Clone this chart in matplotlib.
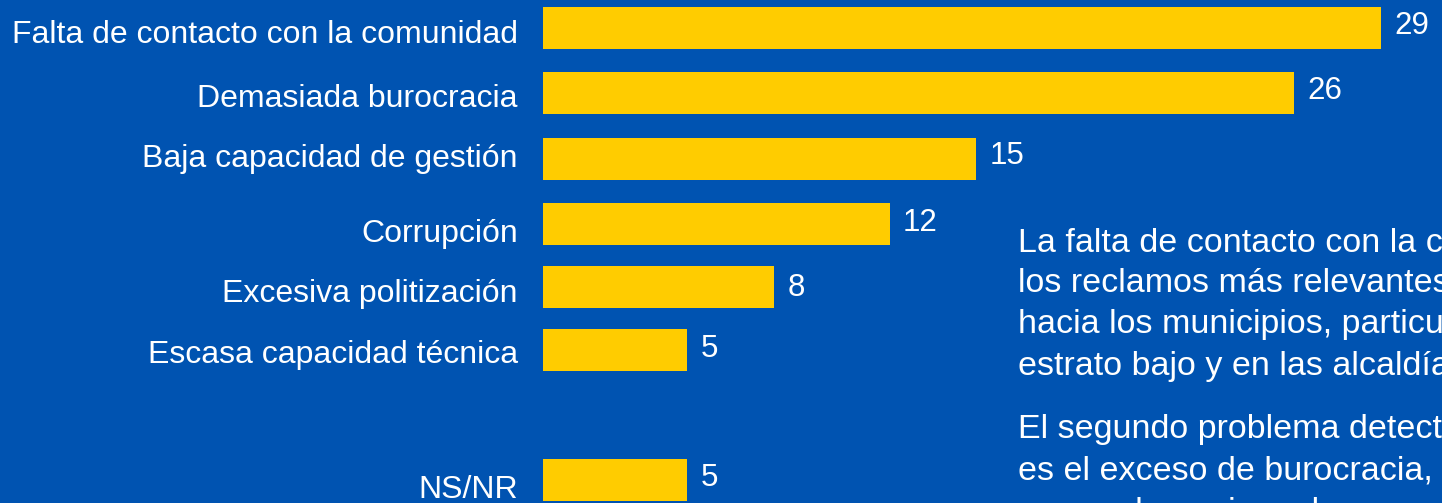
import matplotlib.pyplot as plt

# data
categories = ["Falta de contacto con la comunidad", "Demasiada burocracia",
              "Baja capacidad de gestión", "Corrupción", "Excesiva politización",
              "Escasa capacidad técnica", "NS/NR"]
values = [29, 26, 15, 12, 8, 5, 5]
value_labels = ["29", "26", "15", "12", "8", "5", "5"]

paragraph1 = ["La falta de contacto con la comunidad es uno de",
              "los reclamos más relevantes de la ciudadanía",
              "hacia los municipios, particularmente en el",
              "estrato bajo y en las alcaldías más pequeñas."]
paragraph2 = ["El segundo problema detectado por los vecinos",
              "es el exceso de burocracia, con",
              "preponderancia en las personas de estrato alto."]

BG = "#0053B1"
YELLOW = "#FFCC00"

W, H = 1442, 503
k = 28.9          # pixels per unit
x0 = 543          # pixel where bars start

# layout (pixel rows)
bar_y = [27.8, 92.8, 158.5, 223.5, 287, 349.5, 480]
label_base = [43, 106.7, 166.7, 241.7, 301.7, 363, 498]
value_base = [34.3, 99.3, 164, 231, 296, 357.3, 485.7]

plt.rcParams['font.family'] = ['Liberation Sans', 'DejaVu Sans']

fig = plt.figure(figsize=(W / 100, H / 100), dpi=100, facecolor=BG)
ax = fig.add_axes([0, 0, 1, 1])
ax.set_facecolor(BG)
ax.set_xlim(-x0 / k, (W - x0) / k)
ax.set_ylim(H, 0)
ax.axis(False)

ax.barh(bar_y, values, height=42, color=YELLOW, left=0)

for i in range(len(categories)):
    ax.text(-25 / k, label_base[i], categories[i], ha='right', va='baseline',
            color='white', fontsize=23)
    ax.text(values[i] + 13 / k, value_base[i], value_labels[i], ha='left',
            va='baseline', color='white', fontsize=22.5)

px = (1018 - x0) / k
for line, yb in zip(paragraph1, [252, 292, 333, 375]):
    ax.text(px, yb, line, ha='left', va='baseline', color='white', fontsize=24.5)
for line, yb in zip(paragraph2, [438, 480, 521]):
    ax.text(px, yb, line, ha='left', va='baseline', color='white', fontsize=24.5)

plt.savefig('out.png', dpi=100, facecolor=BG)
